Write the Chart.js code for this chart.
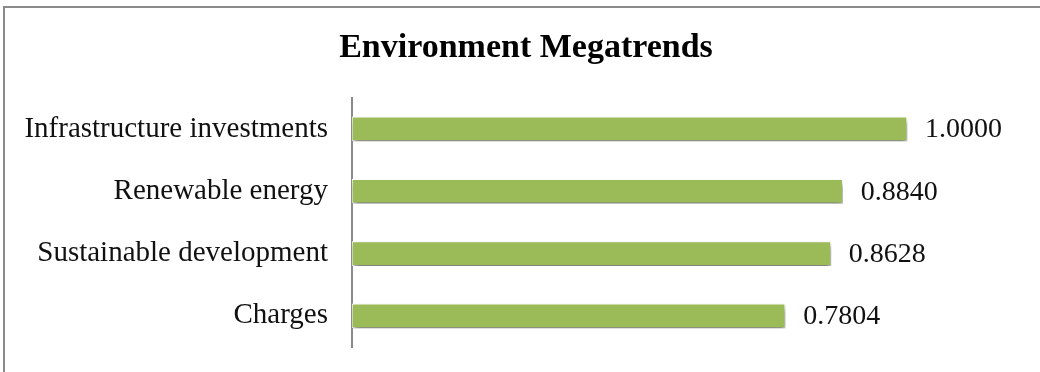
<!DOCTYPE html>
<html>
<head>
<meta charset="utf-8">
<script src="https://cdn.jsdelivr.net/npm/chart.js@4/dist/chart.umd.min.js"></script>
<style>
html,body{margin:0;padding:0;background:#fff;}
#wrap{position:relative;width:1040px;height:372px;}
</style>
</head>
<body>
<div id="wrap"><canvas id="c" width="1040" height="372"></canvas></div>
<script>
const categories = ["Infrastructure investments", "Renewable energy", "Sustainable development", "Charges"];
const values = [1.0000, 0.8840, 0.8628, 0.7804];
const valueLabels = ["1.0000", "0.8840", "0.8628", "0.7804"];
const chartTitle = "Environment Megatrends";

const frame = {
  id: 'frame',
  beforeDraw(chart) {
    const ctx = chart.ctx;
    ctx.save();
    ctx.fillStyle = '#fff';
    ctx.fillRect(0, 0, chart.width, chart.height);
    ctx.strokeStyle = '#8a8a8a';
    ctx.lineWidth = 2;
    ctx.beginPath();
    ctx.moveTo(4, chart.height + 5);
    ctx.lineTo(4, 7);
    ctx.lineTo(chart.width + 5, 7);
    ctx.stroke();
    ctx.restore();
  }
};

const shadow = {
  id: 'barShadow',
  beforeDatasetDraw(chart) {
    const ctx = chart.ctx;
    ctx.save();
    ctx.shadowColor = 'rgba(0,0,0,0.55)';
    ctx.shadowOffsetX = 1;
    ctx.shadowOffsetY = 4;
    ctx.shadowBlur = 5;
  },
  afterDatasetDraw(chart) {
    chart.ctx.restore();
  }
};

const valueText = {
  id: 'valueText',
  afterDatasetsDraw(chart) {
    const ctx = chart.ctx;
    const meta = chart.getDatasetMeta(0);
    ctx.save();
    ctx.font = '28px "Liberation Serif", serif';
    ctx.fillStyle = '#111';
    ctx.textAlign = 'left';
    ctx.textBaseline = 'middle';
    meta.data.forEach((bar, i) => {
      ctx.fillText(valueLabels[i], bar.x + 18, bar.y + 1);
    });
    ctx.restore();
  }
};

new Chart(document.getElementById('c'), {
  type: 'bar',
  data: {
    labels: categories,
    datasets: [{
      data: values,
      backgroundColor: '#9BBB59',
      borderColor: '#ffffff',
      borderWidth: 1,
      borderSkipped: false,
      barThickness: 24
    }]
  },
  options: {
    indexAxis: 'y',
    responsive: false,
    animation: false,
    devicePixelRatio: 1,
    layout: { padding: { left: 12, right: 0, top: 0, bottom: 25 } },
    plugins: {
      legend: { display: false },
      tooltip: { enabled: false },
      title: {
        display: true,
        text: chartTitle,
        color: '#000',
        font: { family: '"Liberation Serif", serif', size: 34, weight: 'bold' },
        padding: { top: 28, bottom: 29 }
      }
    },
    scales: {
      x: {
        display: false,
        min: 0,
        max: 1.2396
      },
      y: {
        afterFit(scale) { scale.width = 340; },
        grid: {
          display: true,
          drawOnChartArea: false,
          drawTicks: true,
          tickLength: 24,
          tickColor: 'rgba(0,0,0,0)'
        },
        border: { display: true, color: '#8a8a8a', width: 2 },
        ticks: {
          color: '#111',
          padding: 0,
          font: { family: '"Liberation Serif", serif', size: 29 }
        }
      }
    }
  },
  plugins: [frame, shadow, valueText]
});
</script>
</body>
</html>
